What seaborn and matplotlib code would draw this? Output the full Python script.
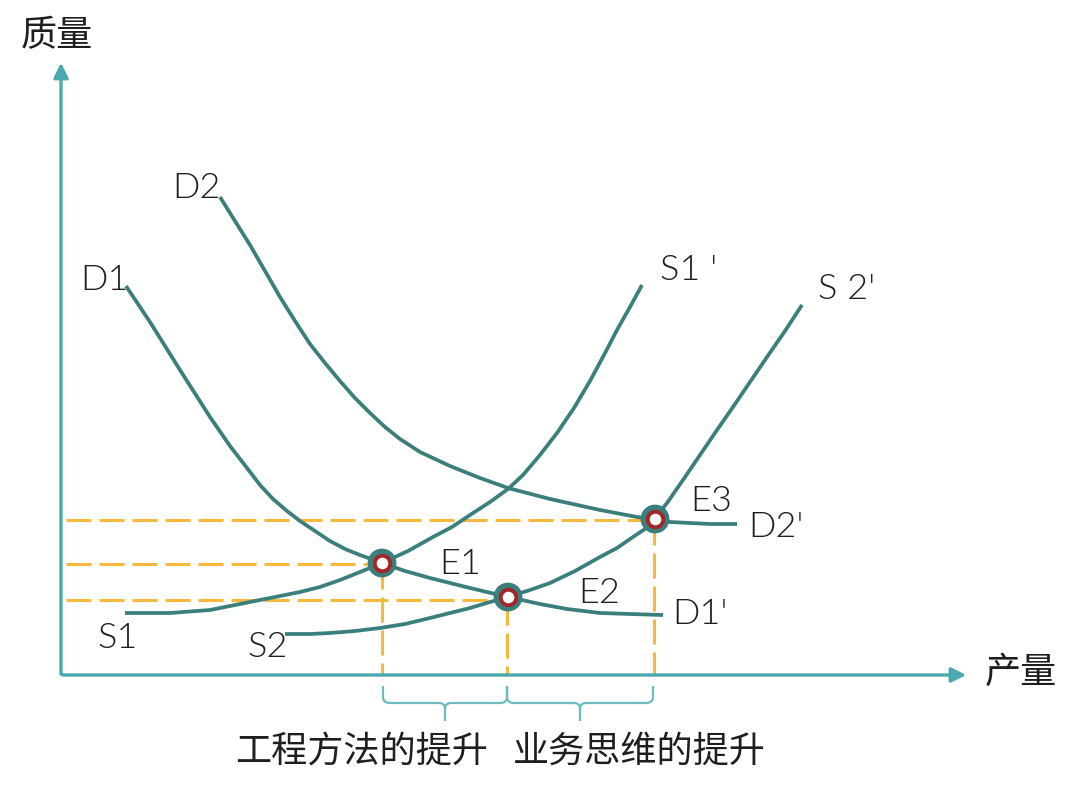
import numpy as np
import pandas as pd
import matplotlib
matplotlib.use("Agg")
import matplotlib.pyplot as plt
import seaborn as sns
from matplotlib.path import Path
from matplotlib.patches import PathPatch

# curve points (pixel coords, y grows downward)
d1_x = [126, 150, 180, 210, 230, 247, 260, 273, 287, 300, 315, 330, 345, 360, 382, 405, 430, 470, 508, 540, 567, 600, 630, 663]
d1_y = [286, 322, 370, 417, 446, 468, 485, 499, 511, 521, 531, 541, 549, 555, 563, 571, 578, 588, 597, 604, 609, 613, 614, 615]
d2_x = [220, 235, 250, 265, 280, 295, 310, 325, 340, 355, 370, 385, 400, 420, 450, 480, 508, 550, 600, 637, 655, 670, 690, 710, 737]
d2_y = [197, 221, 245, 271, 297, 321, 344, 363, 381, 398, 413, 427, 439, 452, 466, 478, 488, 499, 510, 517, 519, 522, 523, 524, 524]
s1_x = [125, 170, 210, 235, 260, 300, 320, 340, 360, 382, 408, 433, 452, 470, 490, 508, 523, 540, 557, 574, 590, 604, 617, 630, 642]
s1_y = [613, 613, 610, 605, 600, 592, 587, 580, 572, 563, 551, 537, 527, 515, 502, 489, 475, 455, 433, 408, 381, 355, 330, 307, 285]
s2_x = [285, 310, 330, 355, 380, 405, 430, 450, 470, 490, 508, 530, 550, 575, 600, 617, 633, 645, 655, 667, 683, 700, 717, 733, 750, 767, 785, 802]
s2_y = [634, 634, 633, 631, 628, 624, 618, 613, 608, 602, 597, 590, 583, 571, 557, 548, 537, 529, 518, 503, 480, 455, 430, 407, 382, 357, 331, 305]

# equilibrium points and their guide lines
eq_x = [382, 508, 655]
eq_y = [563, 597, 519]
guide_x = [382, 507, 654]
guide_y = [564, 600, 520]

# braces under the x axis
brace_from = [383, 507]
brace_to = [507, 653]
brace_text = ["工程方法的提升", "业务思维的提升"]
brace_text_x = [362, 639]

curve_labels = ["D1", "D2", "S1 '", "S 2'", "E3", "D2'", "E1", "E2", "D1'", "S1", "S2"]
label_x = [80, 172, 660, 818, 690, 748, 439, 578, 672, 97, 247]
label_y = [280, 188, 270, 289, 501, 527, 564, 593, 614, 638, 647]

TEAL = "#3b7f7d"
AXIS = "#4aa9ad"
GOLD = "#f6b93b"
RED = "#a3262a"
INK = "#1e1e1e"

sns.set_style("white")
plt.rcParams['font.family'] = ['Noto Sans CJK SC', 'DejaVu Sans']
LATIN = ['Lato', 'Noto Sans CJK SC', 'DejaVu Sans']

fig = plt.figure(figsize=(10.8, 7.97), dpi=100)
ax = fig.add_axes([0, 0, 1, 1])

# dashed guides
for gx, gy, ex in zip(guide_x, guide_y, eq_x):
    ax.plot([66, ex], [gy, gy], color=GOLD, lw=2.2, dashes=(8.2, 2.6), zorder=2)
    ax.plot([gx, gx], [gy, 676], color=GOLD, lw=2.2, dashes=(8.2, 2.6), zorder=2)

curves = pd.concat([
    pd.DataFrame({"x": d1_x, "y": d1_y, "curve": "D1"}),
    pd.DataFrame({"x": d2_x, "y": d2_y, "curve": "D2"}),
    pd.DataFrame({"x": s1_x, "y": s1_y, "curve": "S1"}),
    pd.DataFrame({"x": s2_x, "y": s2_y, "curve": "S2"}),
])
sns.lineplot(data=curves, x="x", y="y", units="curve", estimator=None, sort=False,
             color=TEAL, lw=2.7, ax=ax, zorder=3)
for ln in ax.get_lines()[-4:]:
    ln.set_solid_joinstyle("round")
    ln.set_solid_capstyle("butt")

sns.scatterplot(x=eq_x, y=eq_y, s=430, color=TEAL, edgecolor="none", ax=ax, zorder=4)
sns.scatterplot(x=eq_x, y=eq_y, s=125, color="white", edgecolor=RED, linewidth=2.8, ax=ax, zorder=5)
ax.set_xlim(0, 1080)
ax.set_ylim(797, 0)
ax.axis("off")

# axes with arrows
ax.annotate("", xy=(61, 60), xytext=(61, 677),
            arrowprops=dict(arrowstyle="-|>", color=AXIS, lw=2.4, mutation_scale=22), zorder=6)
ax.annotate("", xy=(969, 675), xytext=(60, 675),
            arrowprops=dict(arrowstyle="-|>", color=AXIS, lw=2.4, mutation_scale=22), zorder=6)

# braces
for x0, x1 in zip(brace_from, brace_to):
    xm = (x0 + x1) / 2
    top, mid, tip = 686, 703, 721
    verts = [(x0, top), (x0, mid - 6), (x0, mid), (x0 + 7, mid), (xm - 6, mid), (xm, mid), (xm, mid + 6), (xm, tip),
             (xm, mid + 6), (xm, mid), (xm + 6, mid), (x1 - 7, mid), (x1, mid), (x1, mid - 6), (x1, top)]
    codes = [Path.MOVETO, Path.LINETO, Path.CURVE3, Path.CURVE3, Path.LINETO, Path.CURVE3, Path.CURVE3, Path.LINETO,
             Path.MOVETO, Path.CURVE3, Path.CURVE3, Path.LINETO, Path.CURVE3, Path.CURVE3, Path.LINETO]
    ax.add_patch(PathPatch(Path(verts, codes), fill=False, edgecolor="#6cbcbf", lw=1.6, zorder=3))

for t, tx in zip(brace_text, brace_text_x):
    ax.text(tx, 752, t, ha="center", va="center", fontsize=26, color=INK)

ax.text(57, 36, "质量", ha="center", va="center", fontsize=26, color=INK)
ax.text(1021, 673, "产量", ha="center", va="center", fontsize=26, color=INK)

for t, lx, ly in zip(curve_labels, label_x, label_y):
    ax.text(lx, ly, t, ha="left", va="center", fontsize=26, color=INK, family=LATIN, fontweight=300)

fig.savefig("out.png", dpi=100)
